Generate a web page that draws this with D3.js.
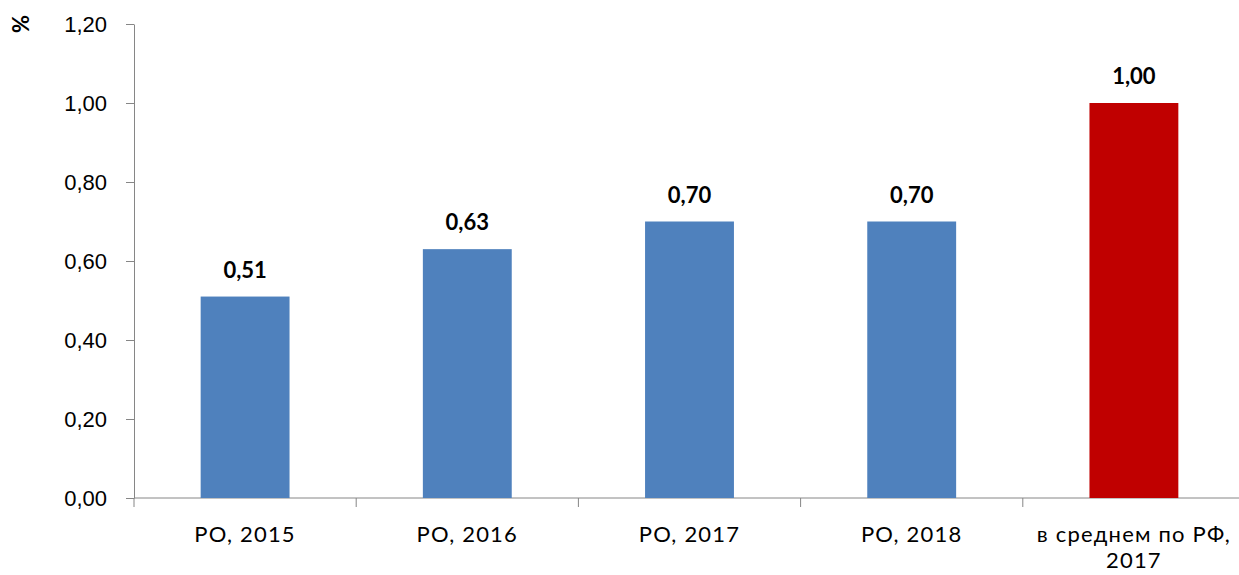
<!DOCTYPE html>
<html>
<head>
<meta charset="utf-8">
<script src="https://cdn.jsdelivr.net/npm/d3@7"></script>
<style>
  body { margin: 0; background: #fff; }
  svg { display: block; font-family: Lato, "Open Sans", sans-serif; }
</style>
</head>
<body>
<svg id="chart" width="1239" height="575"></svg>
<script>
// Bar chart: share, %
const categories = ['РО, 2015', 'РО, 2016', 'РО, 2017', 'РО, 2018', 'в среднем по РФ, 2017'];
const values = [0.51, 0.63, 0.70, 0.70, 1.00];
const barColors = ['#4F81BD', '#4F81BD', '#4F81BD', '#4F81BD', '#C00000'];
const yTicks = [0, 0.2, 0.4, 0.6, 0.8, 1.0, 1.2];

const svg = d3.select('#chart');
const fmt = v => d3.format('.2f')(v).replace('.', ',');

const x = d3.scaleBand().domain(categories).range([134, 1245]).paddingInner(0.6).paddingOuter(0.3);
const y = d3.scaleLinear().domain([0, 1.2]).range([498, 24]);

// y axis
const yAxis = svg.append('g')
  .attr('transform', 'translate(134,0)')
  .call(d3.axisLeft(y).tickValues(yTicks).tickFormat(fmt).tickSize(8).tickSizeOuter(0));
yAxis.select('.domain').attr('stroke', '#868686');
yAxis.selectAll('.tick line').attr('stroke', '#868686');
yAxis.selectAll('.tick text')
  .attr('x', -27).attr('dy', '0.36em')
  .attr('fill', '#000').style('font-size', '22px');

// x axis: ticks on band boundaries
const bounds = d3.range(categories.length + 1).map(i => 134 + i * x.step());
const xg = svg.append('g');
xg.append('line')
  .attr('x1', 134).attr('x2', 1245).attr('y1', y(0)).attr('y2', y(0))
  .attr('stroke', '#868686');
xg.selectAll('line.tk').data(bounds).join('line')
  .attr('class', 'tk')
  .attr('x1', d => d).attr('x2', d => d)
  .attr('y1', y(0)).attr('y2', y(0) + 9)
  .attr('stroke', '#868686');

// bars
svg.selectAll('rect.bar').data(values).join('rect')
  .attr('class', 'bar')
  .attr('x', (d, i) => x(categories[i]))
  .attr('width', x.bandwidth())
  .attr('y', d => y(d))
  .attr('height', d => y(0) - y(d))
  .attr('fill', (d, i) => barColors[i]);

// value labels
svg.selectAll('text.val').data(values).join('text')
  .attr('class', 'val')
  .attr('x', (d, i) => x(categories[i]) + x.bandwidth() / 2)
  .attr('y', d => y(d) - 19)
  .attr('text-anchor', 'middle')
  .style('font-size', '22px').style('font-weight', 'bold')
  .text(fmt);

// category labels (last one wraps)
const catLines = [['РО, 2015'], ['РО, 2016'], ['РО, 2017'], ['РО, 2018'], ['в среднем по РФ,', '2017']];
const catText = svg.selectAll('text.cat').data(catLines).join('text')
  .attr('class', 'cat')
  .attr('text-anchor', 'middle')
  .style('font-size', '22px')
  .style('letter-spacing', '1.2px');
catText.selectAll('tspan').data((d, i) => d.map(s => ({ s, i }))).join('tspan')
  .attr('x', d => x(categories[d.i]) + x.bandwidth() / 2)
  .attr('y', (d, j) => 542 + j * 26)
  .text(d => d.s);

// axis title
svg.append('text')
  .attr('transform', 'translate(29,24) rotate(-90)')
  .attr('text-anchor', 'middle')
  .style('font-size', '22px').style('font-weight', 'bold')
  .text('%');
</script>
</body>
</html>
